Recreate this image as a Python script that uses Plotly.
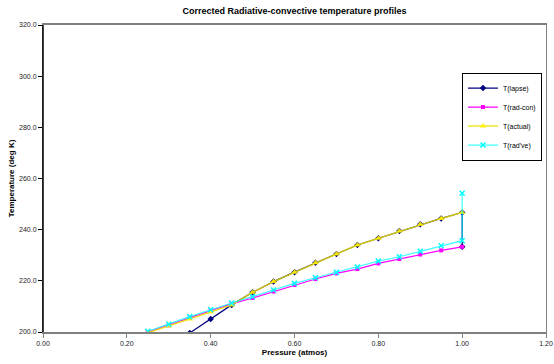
import plotly.graph_objects as go

pressure = [0.25, 0.30, 0.35, 0.40, 0.45, 0.50, 0.55, 0.60, 0.65, 0.70,
            0.75, 0.80, 0.85, 0.90, 0.95, 1.00]

# T(lapse): from 0.35 atm on, final drop at the surface
lapse_p = [0.35, 0.40, 0.45, 0.50, 0.55, 0.60, 0.65, 0.70, 0.75, 0.80,
           0.85, 0.90, 0.95, 1.00, 1.00]
lapse_t = [199.6, 205.1, 210.6, 215.5, 219.7, 223.4, 227.1, 230.5, 234.0,
           236.6, 239.5, 242.1, 244.4, 246.7, 233.3]

radcon_t = [200.0, 202.6, 205.5, 208.3, 211.0, 213.3, 215.8, 218.4, 220.7,
            222.9, 224.6, 226.8, 228.5, 230.3, 231.9, 233.3]

actual_t = [199.7, 202.3, 205.1, 207.8, 210.6, 215.5, 219.7, 223.4, 227.1,
            230.5, 234.0, 236.6, 239.5, 242.1, 244.4, 246.7]

radve_p = pressure + [1.00]
radve_t = [200.3, 203.0, 206.0, 208.7, 211.3, 213.8, 216.4, 219.0, 221.2,
           223.3, 225.4, 227.7, 229.4, 231.6, 233.7, 235.7, 254.2]

x_ticks = [0.0, 0.2, 0.4, 0.6, 0.8, 1.0, 1.2]
y_ticks = [200, 220, 240, 260, 280, 300, 320]

fig = go.Figure()
fig.add_trace(go.Scatter(x=lapse_p, y=lapse_t, name="T(lapse)", mode="lines+markers",
                         line=dict(color="#000080", width=1.2),
                         marker=dict(symbol="diamond", size=5, color="#000080")))
fig.add_trace(go.Scatter(x=pressure, y=radcon_t, name="T(rad-con)", mode="lines+markers",
                         line=dict(color="#ff00ff", width=1.2),
                         marker=dict(symbol="square", size=4, color="#ff00ff")))
fig.add_trace(go.Scatter(x=pressure, y=actual_t, name="T(actual)", mode="lines+markers",
                         line=dict(color="rgba(235,225,0,0.85)", width=1.5),
                         marker=dict(symbol="triangle-up", size=6, color="rgba(255,240,0,0.9)")))
fig.add_trace(go.Scatter(x=radve_p, y=radve_t, name="T(rad've)", mode="lines+markers",
                         line=dict(color="rgba(0,255,255,0.75)", width=1.2),
                         marker=dict(symbol="x-thin", size=5, color="#00ffff",
                                     line=dict(color="#00ffff", width=1.5))))

fig.update_layout(
    width=554, height=364,
    margin=dict(l=43, r=8, t=25, b=32, autoexpand=False),
    paper_bgcolor="white", plot_bgcolor="white",
    font=dict(family="Liberation Sans, Arial, sans-serif", size=7, color="#222222"),
    title=dict(text="<b>Corrected Radiative-convective temperature profiles</b>",
               x=0.5, xanchor="center", xref="paper", y=0.969, yanchor="middle",
               font=dict(size=9, color="#000000")),
    showlegend=True,
    legend=dict(x=0.992, y=0.845, xanchor="right", yanchor="top",
                bordercolor="#000000", borderwidth=1, bgcolor="white",
                font=dict(size=7, color="#000000"), tracegroupgap=0,
                itemwidth=30),
)
fig.update_xaxes(range=[0, 1.2], tickvals=x_ticks, tickformat=".2f",
                 ticks="outside", ticklen=4, tickcolor="#808080", automargin=False,
                 showgrid=False, zeroline=False,
                 showline=True, linecolor="#808080", linewidth=1.5, mirror=True,
                 title=dict(text="<b>Pressure (atmos)</b>", font=dict(size=8, color="#000000"),
                            standoff=3))
fig.update_yaxes(range=[200, 320], tickvals=y_ticks, tickformat=".1f",
                 ticks="outside", ticklen=4, tickcolor="#000000", automargin=False,
                 showgrid=False, zeroline=False,
                 showline=True, linecolor="#808080", linewidth=1, mirror=True,
                 title=dict(text="<b>Temperature (deg K)</b>", font=dict(size=8, color="#000000"),
                            standoff=3))
# black left axis line
fig.add_shape(type="line", xref="paper", yref="paper", x0=0, x1=0, y0=0, y1=1,
              line=dict(color="#000000", width=1.5))

fig.write_html("out.html",
               config={"displayModeBar": False},
               post_script="document.body.style.margin='0';document.body.style.overflow='hidden';")
